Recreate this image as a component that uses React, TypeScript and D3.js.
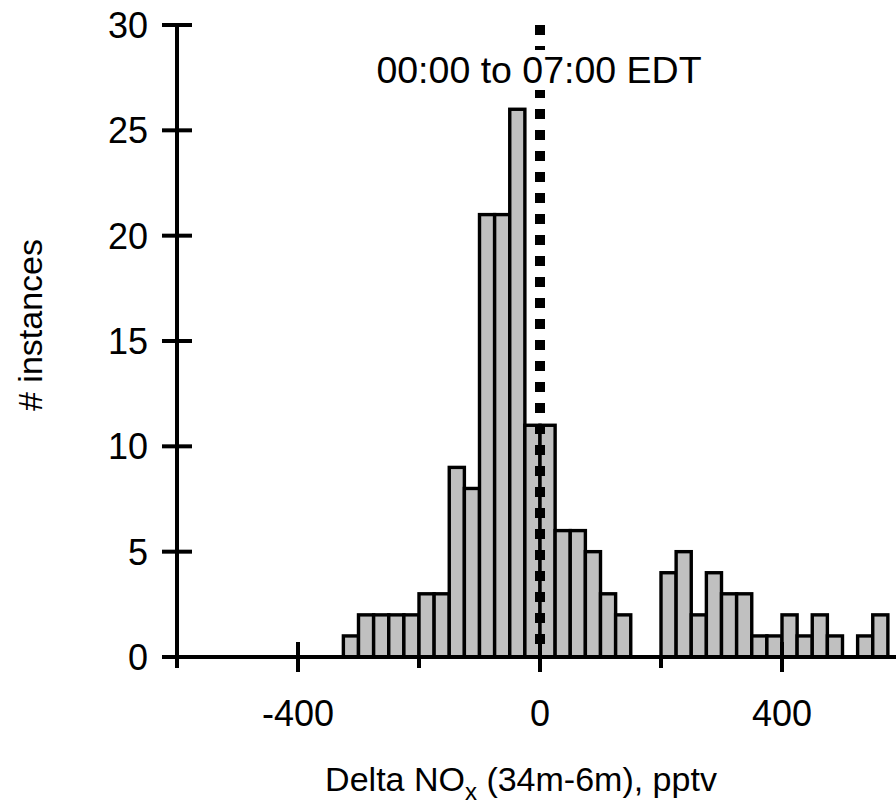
import React from "react";
import * as d3 from "d3";

// Histogram of NOx difference between 34 m and 6 m inlets, 25 pptv bins
const binStarts = [
  -325, -300, -275, -250, -225, -200, -175, -150, -125, -100, -75, -50, -25,
  0, 25, 50, 75, 100, 125, 150, 175, 200, 225, 250, 275, 300, 325, 350, 375,
  400, 425, 450, 475, 500, 525, 550,
];
const counts = [
  1, 2, 2, 2, 2, 3, 3, 9, 8, 21, 21, 26, 11,
  11, 6, 6, 5, 3, 2, 0, 0, 4, 5, 2, 4, 3, 3, 1, 1,
  2, 1, 2, 1, 0, 1, 2,
];
const binWidth = 25;
const xMajorTicks = [-400, 0, 400];
const xMinorTicks = [-600, -200, 200, 600];
const yTicks = [0, 5, 10, 15, 20, 25, 30];
const markerValue = 0;
const titleText = "00:00 to 07:00 EDT";
const yLabel = "# instances";

const W = 896;
const H = 811;
const FONT = "'Liberation Sans', Arial, sans-serif";

export default function App() {
  const x = d3.scaleLinear().domain([-600, 600]).range([177, 903]);
  const y = d3.scaleLinear().domain([0, 30]).range([657, 25]);

  const bars = binStarts.map((b, i) => ({ b, c: counts[i] })).filter((d) => d.c > 0);

  return (
    <svg
      width={W}
      height={H}
      style={{ position: "absolute", left: 0, top: 0, background: "#fff" }}
      fontFamily={FONT}
    >
      <rect width={W} height={H} fill="#fff" />

      {/* bars */}
      {bars.map((d) => (
        <rect
          key={d.b}
          x={x(d.b)}
          y={y(d.c)}
          width={x(d.b + binWidth) - x(d.b)}
          height={y(0) - y(d.c)}
          fill="#c0c0c0"
          stroke="#000"
          strokeWidth={3.4}
        />
      ))}

      {/* vertical reference line at zero */}
      <line
        x1={x(markerValue)}
        x2={x(markerValue)}
        y1={y(30)}
        y2={y(0)}
        stroke="#000"
        strokeWidth={10}
        strokeDasharray="10 11"
      />

      {/* y axis */}
      <line x1={x(-600)} x2={x(-600)} y1={y(30)} y2={y(0)} stroke="#000" strokeWidth={4} />
      {yTicks.map((t) => (
        <g key={t}>
          <line x1={x(-600) - 15} x2={x(-600) + 15} y1={y(t)} y2={y(t)} stroke="#000" strokeWidth={4} />
          <text
            x={148}
            y={y(t)}
            dy="0.36em"
            textAnchor="end"
            fontSize={36}
            fill="#000"
          >
            {t}
          </text>
        </g>
      ))}

      {/* x axis */}
      <line x1={x(-600)} x2={x(600)} y1={y(0)} y2={y(0)} stroke="#000" strokeWidth={4} />
      {xMajorTicks.map((t) => (
        <g key={t}>
          <line x1={x(t)} x2={x(t)} y1={y(0) - 15} y2={y(0) + 15} stroke="#000" strokeWidth={4} />
          <text x={x(t)} y={726} textAnchor="middle" fontSize={36} fill="#000">
            {t}
          </text>
        </g>
      ))}
      {xMinorTicks.map((t) => (
        <line key={t} x1={x(t)} x2={x(t)} y1={y(0)} y2={y(0) + 11} stroke="#000" strokeWidth={4} />
      ))}

      {/* title on a white box above the reference line */}
      <rect x={368} y={50} width={342} height={40} fill="#fff" />
      <text x={539} y={83} textAnchor="middle" fontSize={37.5} fill="#000">
        {titleText}
      </text>

      {/* axis titles */}
      <text
        transform={`translate(42, 325) rotate(-90)`}
        textAnchor="middle"
        fontSize={34}
        fill="#000"
      >
        {yLabel}
      </text>
      <text x={521} y={791} textAnchor="middle" fontSize={34} fill="#000">
        Delta NO
        <tspan fontSize={24} dy={9}>x</tspan>
        <tspan dy={-9}> (34m-6m), pptv</tspan>
      </text>
    </svg>
  );
}
